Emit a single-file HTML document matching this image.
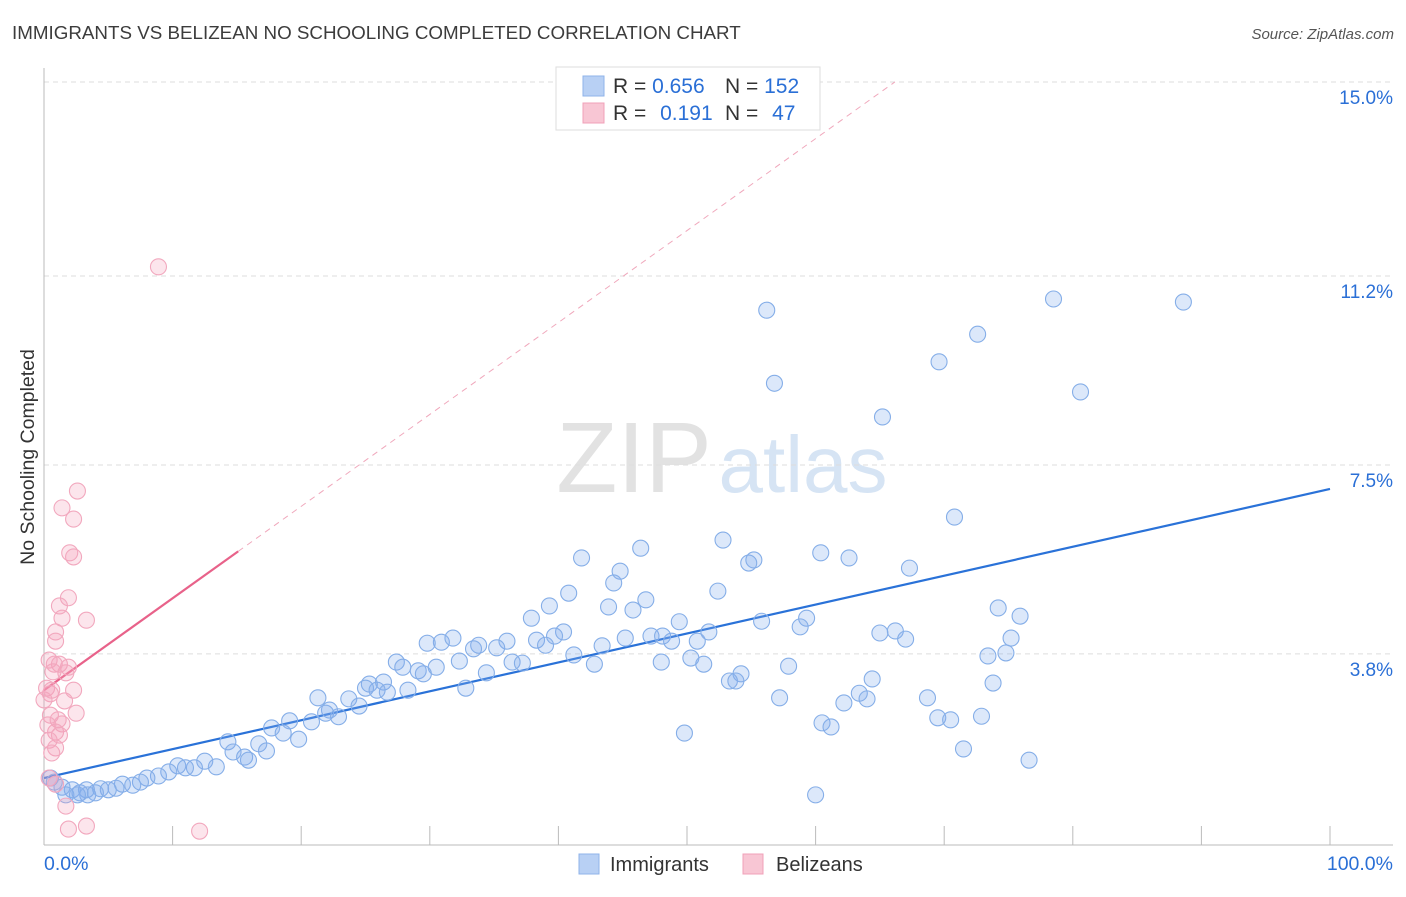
<!DOCTYPE html>
<html><head><meta charset="utf-8">
<style>
body{margin:0;background:#fff;font-family:"Liberation Sans",sans-serif;}
svg text{font-family:"Liberation Sans",sans-serif;}
</style></head>
<body>
<svg id="chart" width="1406" height="892" xmlns="http://www.w3.org/2000/svg">
<text x="12" y="39" font-size="18.8" fill="#3c3c3c">IMMIGRANTS VS BELIZEAN NO SCHOOLING COMPLETED CORRELATION CHART</text>
<text x="1394" y="39" font-size="15" fill="#555" font-style="italic" text-anchor="end">Source: ZipAtlas.com</text>
<text x="34" y="457" font-size="19.5" fill="#333" transform="rotate(-90 34 457)" text-anchor="middle">No Schooling Completed</text>
<g>
<text x="634" y="492" font-size="100" fill="#e2e2e2" font-family="Liberation Serif,serif" text-anchor="middle">ZIP</text>
<text x="803" y="492" font-size="80" fill="#d6e4f4" text-anchor="middle">atlas</text>
</g>
<g id="grid"></g>
<g id="axes"></g>
<g id="lines"></g>
<g id="pts"></g>
<g>
<rect x="556" y="67" width="264" height="63" fill="#fff" stroke="#ddd"/>
<rect x="583" y="76" width="21" height="20" fill="#b8d0f4" stroke="#8fb3ea"/>
<text x="613" y="93" font-size="21" fill="#333">R = <tspan fill="#2a6fd6">0.656</tspan></text>
<text x="725" y="93" font-size="21" fill="#333">N = <tspan fill="#2a6fd6">152</tspan></text>
<rect x="583" y="103" width="21" height="20" fill="#f8c6d4" stroke="#f0a0b8"/>
<text x="613" y="120" font-size="21" fill="#333">R = <tspan fill="#2a6fd6" dx="8">0.191</tspan></text>
<text x="725" y="120" font-size="21" fill="#333">N = <tspan fill="#2a6fd6" dx="8">47</tspan></text>
</g>
<g>
<rect x="579" y="854" width="20" height="20" fill="#b8d0f4" stroke="#8fb3ea"/>
<text x="610" y="871" font-size="20" fill="#333">Immigrants</text>
<rect x="743" y="854" width="20" height="20" fill="#f8c6d4" stroke="#f0a0b8"/>
<text x="776" y="871" font-size="20" fill="#333">Belizeans</text>
</g>
</svg>
<script>
const yTicks=[3.8,7.5,11.2,15.0];
const yTickLabels=["3.8%","7.5%","11.2%","15.0%"];
const xTickCount=10;
const blueX=[56.2,78.5,88.6,72.6,69.6,56.8,80.6,65.2,70.8,52.8,46.4,41.8,55.2,54.8,60.4,62.6,67.3,44.8,44.3,40.8,52.4,46.8,39.3,43.9,45.8,37.9,74.2,75.9,49.4,51.7,55.8,59.3,58.8,40.4,39.7,38.3,39.0,30.9,29.8,31.8,33.8,36.0,33.4,35.2,43.4,45.2,47.2,48.1,48.8,50.8,65.0,66.2,67.0,75.2,74.8,73.4,41.2,36.4,37.2,42.8,48.0,50.3,51.3,57.9,27.4,27.9,30.5,32.3,29.1,29.5,26.4,34.4,25.3,25.0,25.9,26.7,28.3,32.8,54.2,53.3,53.8,64.4,73.8,21.3,23.7,24.5,22.2,21.9,22.9,57.2,63.4,62.2,64.0,68.7,20.8,19.1,17.7,18.6,19.8,16.7,17.3,69.5,70.5,72.9,60.5,61.2,49.8,14.3,14.7,15.6,15.9,12.5,13.4,11.7,10.4,11.0,9.7,71.5,76.6,8.9,8.0,7.5,6.1,6.9,5.6,4.4,3.3,2.2,1.4,0.8,0.5,3.4,2.8,1.7,5.0,60.0,4.0,2.6];
const blueY=[10.53,10.75,10.69,10.06,9.52,9.10,8.93,8.44,6.48,6.03,5.87,5.68,5.64,5.58,5.78,5.68,5.48,5.42,5.19,4.99,5.03,4.86,4.74,4.72,4.66,4.50,4.70,4.54,4.43,4.23,4.44,4.50,4.33,4.23,4.15,4.07,3.97,4.03,4.01,4.11,3.97,4.05,3.90,3.92,3.96,4.11,4.15,4.15,4.05,4.05,4.21,4.25,4.09,4.11,3.82,3.76,3.78,3.64,3.62,3.60,3.64,3.72,3.60,3.56,3.64,3.54,3.54,3.66,3.47,3.41,3.25,3.43,3.21,3.13,3.09,3.05,3.09,3.13,3.41,3.27,3.27,3.31,3.23,2.94,2.92,2.78,2.70,2.64,2.57,2.94,3.03,2.84,2.92,2.94,2.47,2.49,2.35,2.25,2.13,2.04,1.90,2.55,2.51,2.58,2.45,2.37,2.25,2.08,1.88,1.78,1.72,1.70,1.59,1.57,1.61,1.57,1.49,1.94,1.72,1.41,1.37,1.29,1.25,1.23,1.17,1.16,1.14,1.14,1.19,1.29,1.37,1.04,1.08,1.04,1.14,1.04,1.08,1.04];
const pinkX=[8.9,2.6,1.4,2.3,2.0,2.3,1.9,1.2,1.4,3.3,0.9,0.9,0.4,1.2,1.9,1.7,0.7,0.2,2.3,0.5,1.6,2.5,0.5,1.1,1.4,0.9,1.2,0.4,0.9,0.6,0.4,0.9,1.7,3.3,1.9,12.1,0.0,0.3,0.6,0.8];
const pinkY=[11.38,6.99,6.66,6.44,5.78,5.70,4.90,4.74,4.50,4.46,4.23,4.05,3.68,3.60,3.54,3.43,3.45,3.13,3.09,3.02,2.88,2.64,2.60,2.51,2.43,2.27,2.21,2.11,1.96,1.86,1.37,1.25,0.82,0.43,0.37,0.33,2.90,2.41,3.09,3.60];
const blueTrend=[1.37,0.0566];
const pinkTrend=[3.09,0.18];
const NS="http://www.w3.org/2000/svg";
const X0=44,X1=1330,Y0=848,PPY=51.07;
function sx(v){return X0+(X1-X0)*v/100;}
function sy(v){return Y0-v*PPY;}
function mk(tag,attrs,parent){const e=document.createElementNS(NS,tag);for(const k in attrs)e.setAttribute(k,attrs[k]);document.getElementById(parent).appendChild(e);return e;}
yTicks.forEach((t,i)=>{
 const g=mk('line',{x1:X0,x2:1393,y1:sy(t),y2:sy(t),stroke:'#ddd','stroke-dasharray':'5,4'},'grid');
 
 
 const l=mk('text',{x:1393,y:sy(t)+22,'font-size':19,fill:'#2a6fd6','text-anchor':'end'},'grid');
 l.textContent=yTickLabels[i];
 
 
});
const ax=mk('line',{x1:X0,x2:X0,y1:68,y2:845,stroke:'#bbb'},'axes');


const bx=mk('line',{x1:X0,x2:1393,y1:845,y2:845,stroke:'#bbb'},'axes');


for(let i=0;i<=xTickCount;i++){
 const t=mk('line',{x1:sx(i*10),x2:sx(i*10),y1:826,y2:845,stroke:'#bbb'},'axes');
 
 
}
const xl=mk('text',{x:44,y:870,'font-size':19.5,fill:'#2a6fd6'},'axes');xl.textContent='0.0%';


const xr=mk('text',{x:1393,y:870,'font-size':19.5,fill:'#2a6fd6','text-anchor':'end'},'axes');xr.textContent='100.0%';


blueX.forEach((x,i)=>{
 const c=mk('circle',{cx:sx(x),cy:sy(blueY[i]),r:8,fill:'rgba(130,172,238,0.28)',stroke:'#85aee8','stroke-width':1.1},'pts');
 
 
});
pinkX.forEach((x,i)=>{
 const c=mk('circle',{cx:sx(x),cy:sy(pinkY[i]),r:8,fill:'rgba(245,160,188,0.28)',stroke:'#f2a8be','stroke-width':1.1},'pts');
 
 
});
const bl=mk('line',{x1:sx(0),y1:sy(blueTrend[0]),x2:sx(100),y2:sy(blueTrend[0]+blueTrend[1]*100),stroke:'#2a72d8','stroke-width':2.2},'lines');


const xe=(15-pinkTrend[0])/pinkTrend[1];
const pd=mk('line',{x1:sx(15.1),y1:sy(pinkTrend[0]+pinkTrend[1]*15.1),x2:sx(xe),y2:sy(15),stroke:'#f0a8bc','stroke-width':1,'stroke-dasharray':'6,5'},'lines');


const pl=mk('line',{x1:sx(0),y1:sy(pinkTrend[0]),x2:sx(15.1),y2:sy(pinkTrend[0]+pinkTrend[1]*15.1),stroke:'#e8628a','stroke-width':2.2},'lines');


</script>
</body></html>
